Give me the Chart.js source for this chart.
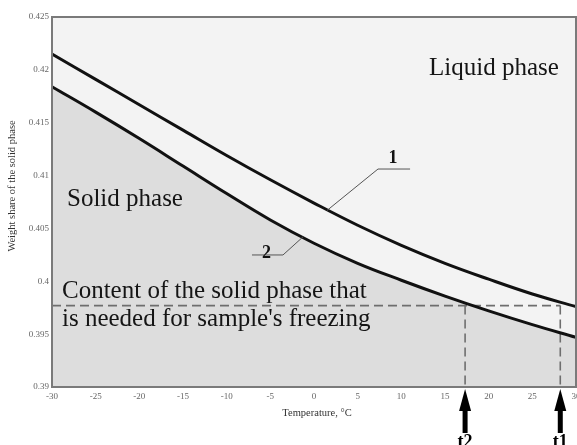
<!DOCTYPE html>
<html>
<head>
<meta charset="utf-8">
<script src="https://cdn.jsdelivr.net/npm/chart.js@4"></script>
<style>
  html, body { margin: 0; padding: 0; background: #ffffff; }
  #wrap { width: 577px; height: 445px; position: relative; }
</style>
</head>
<body>
<div id="wrap"><canvas id="c" width="577" height="445"></canvas></div>
<script>
// ---- data ----
const temperatures = [-30, -25, -20, -15, -10, -5, 0, 5, 10, 15, 20, 25, 30];
const curve1 = [0.4215, 0.4191, 0.4167, 0.4143, 0.4119, 0.4096, 0.4074, 0.4053, 0.4034, 0.4017, 0.4002, 0.3988, 0.3976]; // line 1
const curve2 = [0.4184, 0.4160, 0.4135, 0.4109, 0.4083, 0.4058, 0.4036, 0.4017, 0.4001, 0.3986, 0.3972, 0.3959, 0.3947]; // line 2
const xTicks = [-30, -25, -20, -15, -10, -5, 0, 5, 10, 15, 20, 25, 30];
const yTicks = [0.39, 0.395, 0.4, 0.405, 0.41, 0.415, 0.42, 0.425];
const freezeLevel = 0.3977;     // needed solid-phase content
const t2Temp = 17.3;            // crossing with line 2
const t1Temp = 28.2;            // crossing with line 1
const xMin = -30, xMax = 30, yMin = 0.39, yMax = 0.425;

const pts = (xs, ys) => xs.map((x, i) => ({ x: x, y: ys[i] }));

const serif = '"Liberation Serif", "Times New Roman", serif';

const decorPlugin = {
  id: 'decor',
  beforeDraw(chart) {
    const { ctx, chartArea: a } = chart;
    ctx.save();
    ctx.fillStyle = '#ffffff';
    ctx.fillRect(0, 0, chart.width, chart.height);
    ctx.fillStyle = '#f3f3f3';
    ctx.fillRect(a.left, a.top, a.right - a.left, a.bottom - a.top);
    ctx.restore();
  },
  afterDatasetsDraw(chart) {
    const { ctx, chartArea: a, scales: { x, y } } = chart;
    ctx.save();
    // frame
    ctx.strokeStyle = '#7a7a7a';
    ctx.lineWidth = 2;
    ctx.strokeRect(a.left, a.top, a.right - a.left, a.bottom - a.top);

    // leader lines
    ctx.strokeStyle = '#555555';
    ctx.lineWidth = 1;
    ctx.beginPath();
    ctx.moveTo(x.getPixelForValue(11.0), y.getPixelForValue(0.41062));
    ctx.lineTo(x.getPixelForValue(7.33), y.getPixelForValue(0.41062));
    ctx.lineTo(x.getPixelForValue(1.49), y.getPixelForValue(0.40670));
    ctx.moveTo(x.getPixelForValue(-7.10), y.getPixelForValue(0.40249));
    ctx.lineTo(x.getPixelForValue(-3.55), y.getPixelForValue(0.40249));
    ctx.lineTo(x.getPixelForValue(-1.26), y.getPixelForValue(0.40420));
    ctx.stroke();

    // curve numbers
    ctx.fillStyle = '#111111';
    ctx.font = 'bold 18px ' + serif;
    ctx.textAlign = 'center';
    ctx.textBaseline = 'alphabetic';
    ctx.fillText('1', x.getPixelForValue(9.05), y.getPixelForValue(0.41120));
    ctx.fillText('2', x.getPixelForValue(-5.45), y.getPixelForValue(0.40220));

    // region texts
    ctx.font = '25px ' + serif;
    ctx.textAlign = 'left';
    ctx.fillStyle = '#151515';
    ctx.fillText('Liquid phase', 429, 75);
    ctx.fillText('Solid phase', 67, 206);
    ctx.fillText('Content of the solid phase that', 62, 298);
    ctx.fillText("is needed for sample's freezing", 62, 326);

    // arrows under the axis
    ctx.fillStyle = '#000000';
    [[t2Temp, 't2'], [t1Temp, 't1']].forEach(([t, lab]) => {
      const px = x.getPixelForValue(t);
      const tip = a.bottom + 2;
      ctx.beginPath();
      ctx.moveTo(px, tip);
      ctx.lineTo(px - 6, tip + 22);
      ctx.lineTo(px + 6, tip + 22);
      ctx.closePath();
      ctx.fill();
      ctx.fillRect(px - 2.5, tip + 20, 5, 24);
      ctx.font = 'bold 18px ' + serif;
      ctx.textAlign = 'center';
      ctx.fillText(lab, px, 447);
    });

    // axis titles
    ctx.fillStyle = '#333333';
    ctx.font = '10.5px ' + serif;
    ctx.textAlign = 'center';
    ctx.textBaseline = 'middle';
    ctx.fillText('Temperature, °C', 317, 413);
    ctx.translate(12, 186);
    ctx.rotate(-Math.PI / 2);
    ctx.fillText('Weight share of the solid phase', 0, 0);
    ctx.restore();
  }
};

const lineStyle = {
  borderColor: '#111111',
  borderWidth: 3,
  pointRadius: 0,
  tension: 0.4
};
const dashStyle = {
  borderColor: '#6e6e6e',
  borderWidth: 1.6,
  borderDash: [9, 5],
  pointRadius: 0,
  fill: false,
  tension: 0
};

new Chart(document.getElementById('c'), {
  type: 'line',
  data: {
    datasets: [
      Object.assign({ label: '1', data: pts(temperatures, curve1), fill: false }, lineStyle),
      Object.assign({ label: '2', data: pts(temperatures, curve2), fill: 'start', backgroundColor: '#dddddd' }, lineStyle),
      Object.assign({ label: 'level', data: [{ x: xMin, y: freezeLevel }, { x: t1Temp, y: freezeLevel }] }, dashStyle),
      Object.assign({ label: 't2', data: [{ x: t2Temp, y: freezeLevel }, { x: t2Temp, y: yMin }] }, dashStyle),
      Object.assign({ label: 't1', data: [{ x: t1Temp, y: freezeLevel }, { x: t1Temp, y: yMin }] }, dashStyle)
    ]
  },
  options: {
    responsive: false,
    animation: false,
    events: [],
    layout: { padding: { top: 17, right: 1, left: 0, bottom: 0 } },
    plugins: {
      legend: { display: false },
      tooltip: { enabled: false },
      filler: { drawTime: 'beforeDatasetsDraw' }
    },
    scales: {
      x: {
        type: 'linear', min: xMin, max: xMax,
        grid: { display: false, drawTicks: false },
        border: { display: false },
        afterBuildTicks: s => { s.ticks = xTicks.map(v => ({ value: v })); },
        afterFit: s => { s.height = 58; s.paddingLeft = 0; s.paddingRight = 0; },
        ticks: {
          autoSkip: false, maxRotation: 0, padding: 4,
          color: '#666666', font: { family: serif, size: 9 },
          callback: v => String(v)
        }
      },
      y: {
        type: 'linear', min: yMin, max: yMax,
        grid: { display: false, drawTicks: false },
        border: { display: false },
        afterBuildTicks: s => { s.ticks = yTicks.map(v => ({ value: v })); },
        afterFit: s => { s.width = 52; s.paddingTop = 0; s.paddingBottom = 0; },
        ticks: {
          autoSkip: false, padding: 3,
          color: '#666666', font: { family: serif, size: 9 },
          callback: v => String(+Number(v).toFixed(3))
        }
      }
    }
  },
  plugins: [decorPlugin]
});
</script>
</body>
</html>
